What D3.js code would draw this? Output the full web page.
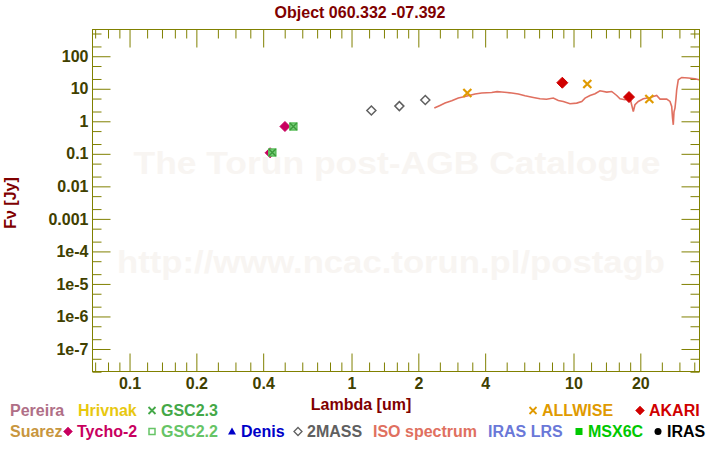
<!DOCTYPE html>
<html><head><meta charset="utf-8">
<script src="https://cdn.jsdelivr.net/npm/d3@7"></script>
<style>
html,body{margin:0;padding:0;background:#fff;}
svg{display:block;font-family:"Liberation Sans",Arial,Helvetica,sans-serif;font-weight:bold;}
</style></head>
<body><svg id="c" width="720" height="450"></svg>
<script>
// ---- data (wavelength in micron, flux in Jy) ----
const isoWave = [2.373,2.517,2.651,2.842,3.043,3.263,3.620,3.879,4.303,4.55,4.773,5.05,5.297,5.671,6.080,6.626,7.102,7.6,8.152,8.587,9.044,9.694,10.39,10.95,11.33,11.93,12.57,13.23,14.19,14.94,15.74,16.28,17.15,18.06,18.69,19.02,19.69,20.74,22.23,23.82,24.66,26.43,27.35,27.84,28.07,28.30,28.51,28.80,29.11,29.32,29.81,30.88,33.07,35.44,36.95,41.0];
const isoFlux = [2.46,2.96,3.50,4.12,4.99,5.59,6.63,7.12,7.43,7.9,7.64,7.4,7.12,6.63,5.88,5.21,4.75,4.6,4.99,4.21,3.93,3.34,3.50,3.93,4.99,6.00,6.77,8.38,7.64,7.97,6.00,4.75,4.43,4.99,1.93,3.11,3.93,4.75,5.21,6.00,4.65,4.65,3.93,2.75,1.24,0.753,1.89,2.46,4.99,8.99,18.3,21.5,20.6,19.6,18.3,18.0];
const tycho2Wave = [0.432,0.504];
const tycho2Flux = [0.104,0.668];
const gsc22Wave = [0.442,0.550];
const gsc22Flux = [0.106,0.668];
const gsc23Wave = [0.442,0.550];
const gsc23Flux = [0.106,0.668];
const twomassWave = [1.235,1.651,2.161];
const twomassFlux = [2.07,2.83,4.34];
const allwiseWave = [3.342,11.6,22.07];
const allwiseFlux = [7.12,13.5,4.65];
const akariWave = [8.95,17.88];
const akariFlux = [14.8,5.36];
const xMajorTicks = [0.1,0.2,0.4,1,2,4,10,20];
const xTickLabels = ["0.1","0.2","0.4","1","2","4","10","20"];
const xMinorTicks = [0.07,0.08,0.09,0.12,0.14,0.16,0.18,0.25,0.3,0.35,0.5,0.6,0.7,0.8,0.9,1.2,1.4,1.6,1.8,2.5,3,3.5,5,6,7,8,9,12,14,16,18,25,30,35];
const yMajorTicks = [100,10,1,0.1,0.01,0.001,1e-4,1e-5,1e-6,1e-7];
const yTickLabels = ["100","10","1","0.1","0.01","0.001","1e-4","1e-5","1e-6","1e-7"];
const yMinorTicks = [500,200,50,20,5,2,0.5,0.2,0.05,0.02,5e-3,2e-3,5e-4,2e-4,5e-5,2e-5,5e-6,2e-6,5e-7,2e-7,5e-8,2e-8];
const legendRow1 = [
  {label:"Pereira", color:"#b06f87", sym:null, x:10},
  {label:"Hrivnak", color:"#e8c810", sym:null, x:78},
  {label:"GSC2.3", color:"#44a848", sym:"x", x:161},
  {label:"ALLWISE", color:"#e09a00", sym:"x", x:542},
  {label:"AKARI", color:"#d00000", sym:"diamond", x:649}
];
const legendRow2 = [
  {label:"Suarez", color:"#c8963e", sym:null, x:10},
  {label:"Tycho-2", color:"#c8005f", sym:"diamond", x:77},
  {label:"GSC2.2", color:"#66c466", sym:"square-open", x:161},
  {label:"Denis", color:"#0000c8", sym:"triangle", x:241},
  {label:"2MASS", color:"#606060", sym:"diamond-open", x:307},
  {label:"ISO spectrum", color:"#e07060", sym:null, x:373},
  {label:"IRAS LRS", color:"#6a78d8", sym:null, x:488},
  {label:"MSX6C", color:"#00c800", sym:"square", x:588},
  {label:"IRAS", color:"#000000", sym:"circle", x:667}
];

// ---- layout ----
const L=92, R=699, T=29, B=371;
const svg = d3.select("#c");
const x = d3.scaleLog().domain([0.0681,36.95]).range([L,R]);
const y = d3.scaleLog().domain([Math.pow(10,-7.692),Math.pow(10,2.822)]).range([B,T]);
const olive="#808000", labelCol="#404000", dark="#800000";

// watermark
svg.append("text").attr("x",397).attr("y",174).attr("text-anchor","middle")
  .attr("font-size",31).attr("fill","#f8f5f2").attr("textLength",527).attr("lengthAdjust","spacingAndGlyphs")
  .text("The Torun post-AGB Catalogue");
svg.append("text").attr("x",391).attr("y",273).attr("text-anchor","middle")
  .attr("font-size",31).attr("fill","#f8f5f2").attr("textLength",548).attr("lengthAdjust","spacingAndGlyphs")
  .text("http://www.ncac.torun.pl/postagb");

// title & axis titles
svg.append("text").attr("x",360).attr("y",18).attr("text-anchor","middle").attr("font-size",16).attr("fill",dark).text("Object 060.332 -07.392");
svg.append("text").attr("x",361).attr("y",410).attr("text-anchor","middle").attr("font-size",16).attr("fill",dark).text("Lambda [um]");
svg.append("text").attr("transform","translate(16,203) rotate(-90)").attr("text-anchor","middle").attr("font-size",16).attr("fill",dark).text("F\u03bd [Jy]");

// axes
function styleAxis(g){
  g.select(".domain").remove();
  g.selectAll("line").attr("stroke",olive).attr("stroke-width",1);
  g.selectAll("text").attr("fill",labelCol).attr("font-size",16).attr("font-weight","bold")
    .attr("font-family","'Liberation Sans',Arial,Helvetica,sans-serif");
}
const yFmt = v => yTickLabels[yMajorTicks.indexOf(v)];
const xFmt = v => xTickLabels[xMajorTicks.indexOf(v)];
const yMinorIn = yMinorTicks.filter(v=>y(v)>=T-0.5 && y(v)<=B+0.5);
const xMinorIn = xMinorTicks.filter(v=>x(v)>=L && x(v)<=R);

svg.append("g").attr("transform",`translate(${L+0.5},0.5)`).call(d3.axisLeft(y).tickValues(yMajorTicks).tickSize(-18).tickPadding(4).tickFormat(yFmt)).call(styleAxis);
svg.append("g").attr("transform",`translate(${L+0.5},0.5)`).call(d3.axisLeft(y).tickValues(yMinorIn).tickSize(-9).tickFormat("")).call(styleAxis);
svg.append("g").attr("transform",`translate(${R+0.5},0.5)`).call(d3.axisRight(y).tickValues(yMajorTicks).tickSize(-18).tickFormat("")).call(styleAxis);
svg.append("g").attr("transform",`translate(${R+0.5},0.5)`).call(d3.axisRight(y).tickValues(yMinorIn).tickSize(-9).tickFormat("")).call(styleAxis);
svg.append("g").attr("transform",`translate(0.5,${B+0.5})`).call(d3.axisBottom(x).tickValues(xMajorTicks).tickSize(-18).tickPadding(6).tickFormat(xFmt)).call(styleAxis);
svg.append("g").attr("transform",`translate(0.5,${B+0.5})`).call(d3.axisBottom(x).tickValues(xMinorIn).tickSize(-9).tickFormat("")).call(styleAxis);
svg.append("g").attr("transform",`translate(0.5,${T+0.5})`).call(d3.axisTop(x).tickValues(xMajorTicks).tickSize(-18).tickFormat("")).call(styleAxis);
svg.append("g").attr("transform",`translate(0.5,${T+0.5})`).call(d3.axisTop(x).tickValues(xMinorIn).tickSize(-9).tickFormat("")).call(styleAxis);
svg.append("rect").attr("x",L+0.5).attr("y",T+0.5).attr("width",R-L).attr("height",B-T)
  .attr("fill","none").attr("stroke",olive).attr("stroke-width",1);

// clip
svg.append("clipPath").attr("id","clip").append("rect").attr("x",L).attr("y",T).attr("width",R-L).attr("height",B-T);
const plot = svg.append("g").attr("clip-path","url(#clip)");

// ISO spectrum
const iso = isoWave.map((w,i)=>[w,isoFlux[i]]);
plot.append("path").datum(iso).attr("fill","none").attr("stroke","#e07060").attr("stroke-width",1.6)
  .attr("d",d3.line().x(d=>x(d[0])).y(d=>y(d[1])));

// marker helpers
function pts(w,f){return w.map((v,i)=>[v,f[i]]);}
function diamond(g,data,r,color,open){
  g.selectAll(null).data(data).enter().append("path")
    .attr("d",d=>{const cx=x(d[0]),cy=y(d[1]);return `M${cx},${cy-r}L${cx+r},${cy}L${cx},${cy+r}L${cx-r},${cy}Z`;})
    .attr("fill",open?"none":color).attr("stroke",color).attr("stroke-width",open?1.5:1);
}
function cross(g,data,r,color,w){
  g.selectAll(null).data(data).enter().append("path")
    .attr("d",d=>{const cx=x(d[0]),cy=y(d[1]);return `M${cx-r},${cy-r}L${cx+r},${cy+r}M${cx-r},${cy+r}L${cx+r},${cy-r}`;})
    .attr("fill","none").attr("stroke",color).attr("stroke-width",w);
}
function square(g,data,r,color){
  g.selectAll(null).data(data).enter().append("rect")
    .attr("x",d=>x(d[0])-r).attr("y",d=>y(d[1])-r).attr("width",2*r).attr("height",2*r)
    .attr("fill","#7ccf7c").attr("stroke",color).attr("stroke-width",1.5);
}
diamond(plot,pts(tycho2Wave,tycho2Flux),5,"#c8005f",false);
square(plot,pts(gsc22Wave,gsc22Flux),3.5,"#5cbf5c");
cross(plot,pts(gsc23Wave,gsc23Flux),3.5,"#3a9a3a",1.5);
diamond(plot,pts(twomassWave,twomassFlux),4.5,"#606060",true);
cross(plot,pts(allwiseWave,allwiseFlux),4,"#e09a00",2.2);
diamond(plot,pts(akariWave,akariFlux),5.5,"#d00000",false);

// legend
function legendRow(items,yb){
  items.forEach(it=>{
    svg.append("text").attr("x",it.x).attr("y",yb).attr("font-size",16).attr("fill",it.color).text(it.label);
    const sx=it.x-9, sy=yb-5.5;
    const g=svg.append("g").attr("fill",it.color).attr("stroke",it.color);
    if(it.sym==="x") g.append("path").attr("d",`M${sx-3.5},${sy-3.5}L${sx+3.5},${sy+3.5}M${sx-3.5},${sy+3.5}L${sx+3.5},${sy-3.5}`).attr("stroke-width",1.8).attr("fill","none");
    if(it.sym==="diamond") g.append("path").attr("d",`M${sx},${sy-4.5}L${sx+4.5},${sy}L${sx},${sy+4.5}L${sx-4.5},${sy}Z`).attr("stroke-width",0.5);
    if(it.sym==="diamond-open") g.append("path").attr("d",`M${sx},${sy-4}L${sx+4},${sy}L${sx},${sy+4}L${sx-4},${sy}Z`).attr("fill","none").attr("stroke-width",1.3);
    if(it.sym==="square-open") g.append("rect").attr("x",sx-3).attr("y",sy-3).attr("width",6).attr("height",6).attr("fill","none").attr("stroke-width",1.5);
    if(it.sym==="square") g.append("rect").attr("x",sx-3.5).attr("y",sy-3.5).attr("width",7).attr("height",7).attr("stroke","none");
    if(it.sym==="triangle") g.append("path").attr("d",`M${sx},${sy-4}L${sx+4},${sy+3}L${sx-4},${sy+3}Z`).attr("stroke","none");
    if(it.sym==="circle") g.append("circle").attr("cx",sx).attr("cy",sy).attr("r",3.5).attr("stroke","none");
  });
}
legendRow(legendRow1,416);
legendRow(legendRow2,437);
</script></body></html>
